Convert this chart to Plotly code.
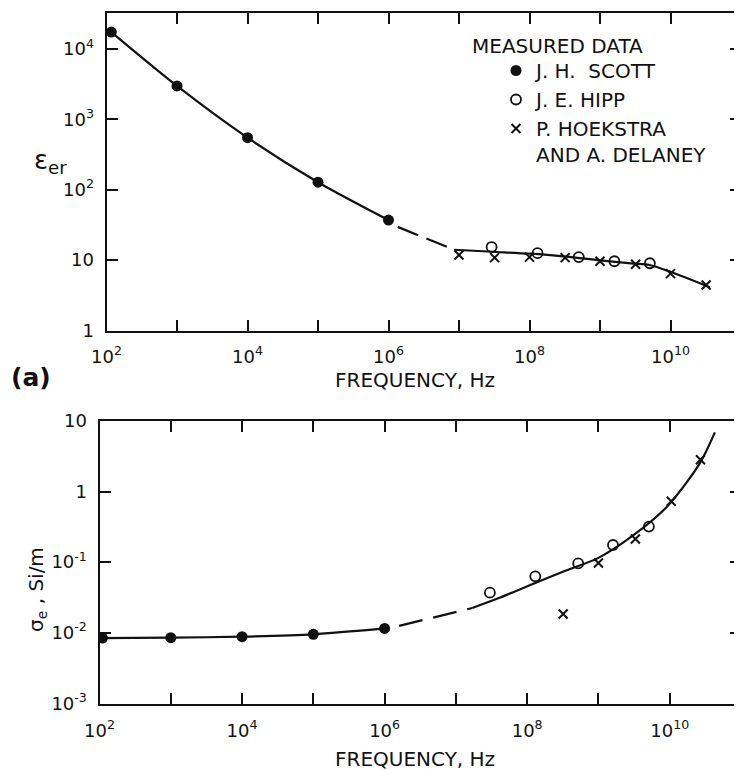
import plotly.graph_objects as go

# ---------------- data ----------------
# (a) relative permittivity
eps_scott_f = [1.17e2, 1e3, 1e4, 1e5, 1e6]
eps_scott = [17500, 3000, 550, 128, 37]
eps_hipp_f = [2.9e7, 1.3e8, 5.0e8, 1.6e9, 5.1e9]
eps_hipp = [15.3, 12.5, 11.0, 9.6, 9.0]
eps_hoek_f = [1e7, 3.2e7, 1e8, 3.2e8, 1e9, 3.2e9, 1e10, 3.2e10]
eps_hoek = [11.8, 10.8, 11.0, 10.8, 9.6, 8.7, 6.4, 4.4]
# fitted curve: solid / dashed / solid
eps_fit1_f = [1.17e2, 1e3, 1e4, 1e5, 1e6]
eps_fit1 = [17500, 3000, 550, 128, 37]
eps_fit2_f = [1.35e6, 8.5e6]
eps_fit2 = [29.6, 14.0]
eps_fit3_f = [8.5e6, 3e7, 1e8, 3e8, 1e9, 3e9, 5e9, 1e10, 3.6e10]
eps_fit3 = [14.0, 13.1, 12.3, 11.3, 9.9, 8.9, 8.5, 6.8, 4.1]

# (b) conductivity
sig_scott_f = [1.1e2, 1e3, 1e4, 1e5, 1e6]
sig_scott = [0.0084, 0.0085, 0.0088, 0.0095, 0.0115]
sig_hipp_f = [3.0e7, 1.3e8, 5.2e8, 1.6e9, 5.1e9]
sig_hipp = [0.0369, 0.0629, 0.096, 0.175, 0.319]
sig_hoek_f = [3.2e8, 1e9, 3.3e9, 1.05e10, 2.7e10]
sig_hoek = [0.0184, 0.0975, 0.213, 0.728, 2.82]
sig_fit1_f = [1e2, 1e3, 1e4, 1e5, 1e6]
sig_fit1 = [0.0084, 0.0085, 0.0088, 0.0095, 0.0115]
sig_fit2_f = [1.6e6, 1.7e7]
sig_fit2 = [0.0125, 0.0224]
sig_fit3_f = [1.7e7, 4e7, 1.2e8, 3.5e8, 1e9, 3e9, 9e9, 2.6e10, 4.3e10]
sig_fit3 = [0.0224, 0.031, 0.049, 0.076, 0.115, 0.235, 0.6, 2.45, 6.9]

# tick labels
x_tickvals = [1e2, 1e3, 1e4, 1e5, 1e6, 1e7, 1e8, 1e9, 1e10, 1e11]
x_ticktext = ["10<sup>2</sup>", "", "10<sup>4</sup>", "", "10<sup>6</sup>", "",
              "10<sup>8</sup>", "", "10<sup>10</sup>", ""]
eps_tickvals = [1, 10, 100, 1000, 10000]
eps_ticktext = ["1", "10", "10<sup>2</sup>", "10<sup>3</sup>", "10<sup>4</sup>"]
sig_tickvals = [1e-3, 1e-2, 1e-1, 1, 10]
sig_ticktext = ["10<sup>-3</sup>", "10<sup>-2</sup>", "10<sup>-1</sup>", "1", "10"]

legend_names = ["J. H.  SCOTT", "J. E. HIPP", "P. HOEKSTRA<br>AND A. DELANEY"]

# ---------------- styling ----------------
INK = "#111111"
FONT = "DejaVu Sans"
W, H = 742, 770
OFF = 8  # page body margin: figure is drawn 8px right / down in the window


def px(x):
    return (x - OFF) / W


def py(y):
    return 1 - (y - OFF) / H


fig = go.Figure()


def curve(x, y, xa, ya, dash="solid"):
    fig.add_trace(go.Scatter(
        x=x, y=y, xaxis=xa, yaxis=ya, mode="lines", showlegend=False,
        line=dict(color=INK, width=2.2, dash=dash, shape="spline", smoothing=0.8),
        hoverinfo="skip"))


curve(eps_fit1_f, eps_fit1, "x", "y")
curve(eps_fit2_f, eps_fit2, "x", "y", dash="22px,9px")
curve(eps_fit3_f, eps_fit3, "x", "y")
curve(sig_fit1_f, sig_fit1, "x2", "y2")
curve(sig_fit2_f, sig_fit2, "x2", "y2", dash="24px,11px")
curve(sig_fit3_f, sig_fit3, "x2", "y2")

m_scott = dict(symbol="circle", size=11, color=INK)
m_hipp = dict(symbol="circle-open", size=10, color=INK, line=dict(width=1.8, color=INK))
m_hoek = dict(symbol="x-thin-open", size=9, color=INK, line=dict(width=2, color=INK))

fig.add_trace(go.Scatter(x=eps_scott_f, y=eps_scott, xaxis="x", yaxis="y", mode="markers",
                         marker=m_scott, name=legend_names[0], legendrank=1))
fig.add_trace(go.Scatter(x=eps_hipp_f, y=eps_hipp, xaxis="x", yaxis="y", mode="markers",
                         marker=m_hipp, name=legend_names[1], legendrank=2))
fig.add_trace(go.Scatter(x=eps_hoek_f, y=eps_hoek, xaxis="x", yaxis="y", mode="markers",
                         marker=m_hoek, name=legend_names[2], legendrank=3))
fig.add_trace(go.Scatter(x=sig_scott_f, y=sig_scott, xaxis="x2", yaxis="y2", mode="markers",
                         marker=m_scott, showlegend=False))
fig.add_trace(go.Scatter(x=sig_hipp_f, y=sig_hipp, xaxis="x2", yaxis="y2", mode="markers",
                         marker=m_hipp, showlegend=False))
fig.add_trace(go.Scatter(x=sig_hoek_f, y=sig_hoek, xaxis="x2", yaxis="y2", mode="markers",
                         marker=m_hoek, showlegend=False))

axis_common = dict(
    type="log", showline=True, linecolor=INK, linewidth=2, mirror="ticks",
    ticks="inside", ticklen=11, tickwidth=2, tickcolor=INK, showgrid=False,
    zeroline=False, automargin=False,
    tickfont=dict(family=FONT, size=18, color=INK),
)

fig.update_layout(
    template="none",
    width=W, height=H, autosize=False,
    margin=dict(l=0, r=0, t=0, b=0, pad=0),
    paper_bgcolor="white", plot_bgcolor="white",
    font=dict(family=FONT, color=INK),
    xaxis=dict(**axis_common, domain=[px(106.5), px(741)], range=[2, 11], anchor="y",
               tickvals=x_tickvals, ticktext=x_ticktext, ticklabelstandoff=8),
    yaxis=dict(**axis_common, domain=[py(331), py(13.3)], range=[-0.01, 4.51],
               anchor="x", tickvals=eps_tickvals, ticktext=eps_ticktext, ticklabelstandoff=7),
    xaxis2=dict(**axis_common, domain=[px(99.5), px(741)], range=[2, 11], anchor="y2",
                tickvals=x_tickvals, ticktext=x_ticktext, ticklabelstandoff=9),
    yaxis2=dict(**axis_common, domain=[py(704), py(421)], range=[-3.01, 1.0],
                anchor="x2", tickvals=sig_tickvals, ticktext=sig_ticktext, ticklabelstandoff=7),
    showlegend=True,
    legend=dict(x=px(496), y=py(51), xanchor="left", yanchor="top",
                bgcolor="rgba(0,0,0,0)", borderwidth=0, valign="top",
                font=dict(family=FONT, size=20, color=INK), traceorder="normal"),
)

ann = [
    dict(text="MEASURED DATA", x=px(470), y=py(46), xanchor="left", yanchor="middle",
         font=dict(family=FONT, size=20, color=INK)),
    dict(text="ε<sub>er</sub>", x=px(50), y=py(162), xanchor="center", yanchor="middle",
         font=dict(family=FONT, size=26, color=INK)),
    dict(text="σ<sub>e</sub> , Si/m", x=px(37), y=py(590), xanchor="center", yanchor="middle",
         textangle=-90, font=dict(family=FONT, size=20, color=INK)),
    dict(text="FREQUENCY, Hz", x=px(415), y=py(380), xanchor="center", yanchor="middle",
         font=dict(family=FONT, size=20, color=INK)),
    dict(text="FREQUENCY, Hz", x=px(415), y=py(759), xanchor="center", yanchor="middle",
         font=dict(family=FONT, size=20, color=INK)),
    dict(text="<b>(a)</b>", x=px(31), y=py(377), xanchor="center", yanchor="middle",
         font=dict(family=FONT, size=25, color=INK)),
]
for a in ann:
    fig.add_annotation(xref="paper", yref="paper", showarrow=False, **a)

fig.write_html("out.html")
